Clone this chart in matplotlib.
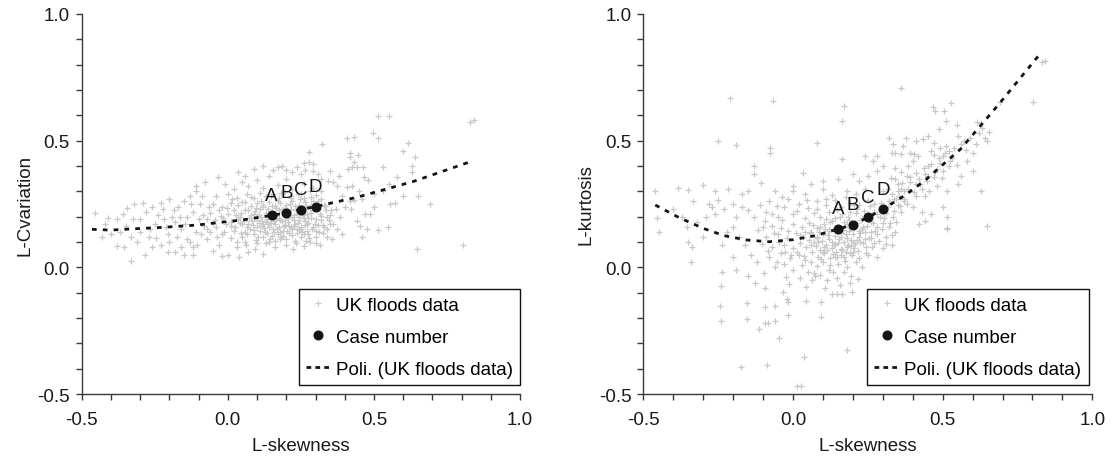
import matplotlib
matplotlib.use("Agg")
import matplotlib.pyplot as plt
from matplotlib.ticker import MultipleLocator, FuncFormatter
from matplotlib.lines import Line2D

plt.rcParams['font.family'] = ['Liberation Sans', 'DejaVu Sans']

# ---------------- data: left panel (L-skewness vs L-Cvariation) ----------------
lcv_right_wing = [
    (0.515, 0.599), (0.553, 0.599), (0.829, 0.572), (0.843, 0.581), (0.409, 0.509), (0.43, 0.516),
    (0.321, 0.487), (0.279, 0.456), (0.498, 0.53), (0.513, 0.509), (0.599, 0.46), (0.618, 0.49),
    (0.641, 0.434), (0.418, 0.45), (0.418, 0.437), (0.447, 0.443), (0.43, 0.415), (0.424, 0.395),
    (0.441, 0.395), (0.464, 0.395), (0.532, 0.395), (0.578, 0.355), (0.629, 0.401), (0.629, 0.375),
    (0.652, 0.283), (0.692, 0.25), (0.555, 0.25), (0.572, 0.253), (0.47, 0.21), (0.487, 0.21),
    (0.441, 0.184), (0.452, 0.164), (0.458, 0.121), (0.475, 0.151), (0.515, 0.147), (0.549, 0.158),
    (0.646, 0.072), (0.806, 0.089), (0.316, 0.089), (0.407, 0.316), (0.424, 0.322), (0.344, 0.342),
    (0.361, 0.336), (0.373, 0.322), (0.41, 0.39), (0.465, 0.355), (0.48, 0.345), (0.39, 0.28),
    (0.418, 0.26), (0.43, 0.265), (0.40, 0.24), (0.37, 0.23), (0.385, 0.2), (0.36, 0.17),
    (0.375, 0.15), (0.39, 0.13), (0.355, 0.11), (0.5, 0.29), (0.53, 0.3), (0.45, 0.3),
    (0.46, 0.27), (0.38, 0.36), (0.35, 0.38), (0.42, 0.23), (0.55, 0.33), (0.6, 0.28), (0.5, 0.24),
]
lcv_upper_core = [
    (0.09, 0.39), (0.12, 0.40), (0.155, 0.385), (0.17, 0.395), (0.185, 0.40), (0.2, 0.385),
    (0.22, 0.375), (0.235, 0.395), (0.25, 0.37), (0.265, 0.385), (0.29, 0.38), (0.31, 0.37),
    (0.034, 0.375), (-0.035, 0.355), (0.06, 0.36), (0.14, 0.36), (0.26, 0.41), (0.278, 0.415),
    (0.292, 0.408), (0.2, 0.35), (0.1, 0.345), (0.32, 0.35), (0.05, 0.335), (-0.01, 0.33),
]
lcv_left_wing = [
    (-0.454, 0.214), (-0.381, 0.086), (-0.357, 0.079), (-0.333, 0.026), (-0.282, 0.049), (-0.381, 0.19),
    (-0.323, 0.19), (-0.299, 0.19), (-0.229, 0.254), (-0.223, 0.23), (-0.205, 0.13), (-0.205, 0.059),
    (-0.108, 0.32), (-0.078, 0.338), (-0.25, 0.17), (-0.27, 0.12), (-0.3, 0.14), (-0.23, 0.09),
    (-0.18, 0.06), (-0.16, 0.08), (-0.14, 0.11), (-0.19, 0.2), (-0.17, 0.24), (-0.15, 0.26),
    (-0.13, 0.28), (-0.12, 0.22), (-0.16, 0.15), (-0.21, 0.16), (-0.24, 0.205), (-0.28, 0.22),
    (-0.35, 0.165), (-0.42, 0.17), (-0.4, 0.13), (-0.33, 0.12), (-0.26, 0.08), (-0.12, 0.05),
    (-0.1, 0.19), (-0.11, 0.14), (-0.13, 0.1), (-0.175, 0.12), (-0.14, 0.2), (-0.2, 0.27),
    (-0.11, 0.3), (-0.095, 0.25), (-0.12, 0.08), (-0.15, 0.05), (-0.18, 0.18), (-0.26, 0.24),
    (-0.32, 0.25), (-0.36, 0.21),
    (-0.43, 0.12), (-0.41, 0.195), (-0.37, 0.14), (-0.345, 0.235), (-0.31, 0.1), (-0.29, 0.255),
    (-0.265, 0.15), (-0.245, 0.115), (-0.22, 0.19), (-0.2, 0.1), (-0.185, 0.225), (-0.165, 0.2),
    (-0.145, 0.17), (-0.125, 0.25), (-0.105, 0.09), (-0.09, 0.28),
]
lcv_core = [
    (0.038, 0.04), (0.0, 0.05), (0.07, 0.06), (0.121, 0.053), (0.093, 0.072), (0.224, 0.072),
    (0.16, 0.08), (0.2, 0.09), (0.26, 0.085), (-0.05, 0.065), (-0.03, 0.09), (0.03, 0.08),
    (0.06, 0.1), (0.1, 0.095), (0.14, 0.1), (0.18, 0.11), (0.23, 0.105), (0.28, 0.1),
    (0.3, 0.12), (-0.07, 0.11), (0.01, 0.115), (0.05, 0.12), (0.12, 0.12), (0.25, 0.12), (-0.02, 0.045),
    (-0.06, 0.14), (-0.02, 0.13), (0.02, 0.145), (0.045, 0.135), (0.075, 0.15), (0.09, 0.13),
    (0.11, 0.145), (0.135, 0.135), (0.155, 0.15), (0.17, 0.13), (0.19, 0.145), (0.21, 0.135),
    (0.235, 0.15), (0.255, 0.14), (0.275, 0.13), (0.3, 0.145), (0.325, 0.135), (0.34, 0.15),
    (-0.08, 0.165), (-0.04, 0.16), (-0.005, 0.17), (0.025, 0.158), (0.05, 0.172), (0.065, 0.16),
    (0.085, 0.168), (0.1, 0.158), (0.12, 0.172), (0.14, 0.16), (0.16, 0.17), (0.175, 0.158),
    (0.195, 0.168), (0.215, 0.16), (0.23, 0.172), (0.25, 0.158), (0.27, 0.17), (0.29, 0.16),
    (0.31, 0.168), (0.33, 0.158), (0.35, 0.172),
    (-0.07, 0.19), (-0.045, 0.185), (-0.015, 0.195), (0.01, 0.18), (0.035, 0.192), (0.055, 0.183),
    (0.08, 0.196), (0.1, 0.185), (0.115, 0.198), (0.13, 0.18), (0.165, 0.19), (0.185, 0.182),
    (0.205, 0.195), (0.225, 0.185), (0.245, 0.198), (0.265, 0.182), (0.285, 0.195), (0.32, 0.185), (0.34, 0.2),
    (-0.06, 0.215), (-0.03, 0.225), (0.0, 0.21), (0.02, 0.228), (0.045, 0.215), (0.07, 0.225),
    (0.09, 0.21), (0.11, 0.23), (0.13, 0.215), (0.175, 0.228), (0.215, 0.232), (0.235, 0.21),
    (0.27, 0.21), (0.29, 0.225), (0.315, 0.21), (0.335, 0.228), (0.35, 0.205),
    (-0.05, 0.25), (-0.02, 0.24), (0.01, 0.255), (0.035, 0.245), (0.06, 0.258), (0.08, 0.242),
    (0.1, 0.255), (0.12, 0.245), (0.14, 0.258), (0.16, 0.242), (0.18, 0.255), (0.2, 0.245),
    (0.22, 0.26), (0.245, 0.248), (0.265, 0.258), (0.285, 0.245), (0.31, 0.26), (0.33, 0.248),
    (-0.04, 0.28), (0.0, 0.29), (0.03, 0.275), (0.065, 0.288), (0.09, 0.272), (0.11, 0.295),
    (0.13, 0.28), (0.155, 0.29), (0.175, 0.275), (0.195, 0.298), (0.215, 0.282), (0.24, 0.29),
    (0.26, 0.275), (0.28, 0.3), (0.3, 0.285), (0.32, 0.3),
    (0.02, 0.31), (0.07, 0.32), (0.12, 0.315), (0.17, 0.325), (0.22, 0.31), (0.26, 0.33), (0.29, 0.315),
    (0.06, 0.14), (0.08, 0.205), (0.105, 0.175), (0.125, 0.155), (0.145, 0.19), (0.15, 0.125),
    (0.165, 0.235), (0.18, 0.14), (0.2, 0.215), (0.22, 0.15), (0.24, 0.175), (0.255, 0.225),
    (0.27, 0.145), (0.28, 0.235), (0.3, 0.19), (0.04, 0.2), (0.095, 0.235), (0.135, 0.205),
    (0.19, 0.125), (0.26, 0.195),
]
lcv_core_dense = [
    (0.012, 0.162), (0.027, 0.207), (0.041, 0.176), (0.058, 0.228), (0.067, 0.131), (0.073, 0.193),
    (0.088, 0.147), (0.094, 0.222), (0.103, 0.119), (0.108, 0.205), (0.117, 0.163), (0.121, 0.238),
    (0.128, 0.141), (0.133, 0.191), (0.138, 0.229), (0.143, 0.112), (0.147, 0.174), (0.152, 0.244),
    (0.158, 0.138), (0.161, 0.203), (0.168, 0.152), (0.172, 0.262), (0.178, 0.187), (0.183, 0.121),
    (0.188, 0.219), (0.192, 0.165), (0.197, 0.236), (0.203, 0.143), (0.207, 0.178), (0.212, 0.251),
    (0.218, 0.127), (0.221, 0.198), (0.227, 0.164), (0.232, 0.226), (0.238, 0.137), (0.242, 0.187),
    (0.247, 0.268), (0.252, 0.153), (0.257, 0.207), (0.262, 0.133), (0.268, 0.241), (0.273, 0.176),
    (0.278, 0.116), (0.283, 0.213), (0.288, 0.151), (0.293, 0.262), (0.298, 0.171), (0.304, 0.229),
    (0.311, 0.138), (0.318, 0.201), (0.326, 0.169), (0.333, 0.243), (0.338, 0.119), (0.346, 0.188),
    (0.352, 0.226),
    (-0.012, 0.141), (-0.025, 0.204), (-0.038, 0.118), (-0.051, 0.176), (-0.064, 0.238), (-0.072, 0.151),
    (-0.085, 0.205), (-0.091, 0.131), (-0.004, 0.236), (0.015, 0.268), (0.032, 0.101), (0.047, 0.257),
    (0.062, 0.087), (0.078, 0.276), (0.096, 0.108), (0.112, 0.262), (0.129, 0.097), (0.146, 0.281),
    (0.163, 0.104), (0.181, 0.292), (0.199, 0.112), (0.216, 0.273), (0.234, 0.095), (0.251, 0.288),
    (0.269, 0.105), (0.286, 0.279), (0.302, 0.098), (0.319, 0.271),
    (0.137, 0.171), (0.154, 0.211), (0.176, 0.196), (0.194, 0.186), (0.209, 0.164), (0.226, 0.206),
    (0.244, 0.146), (0.263, 0.167), (0.118, 0.183), (0.101, 0.201), (0.084, 0.181), (0.069, 0.172),
    (0.158, 0.181), (0.185, 0.232), (0.231, 0.243), (0.274, 0.196),
]
lcv_trend_x = [-0.465, -0.40, -0.34, -0.22, -0.105, -0.03, 0.05, 0.15, 0.2, 0.25, 0.3, 0.44, 0.635, 0.83]
lcv_trend_y = [0.150, 0.147, 0.151, 0.158, 0.167, 0.177, 0.187, 0.205, 0.215, 0.228, 0.24, 0.276, 0.339, 0.417]

# ---------------- data: right panel (L-skewness vs L-kurtosis) ----------------
lk_lower_tail = [
    (-0.24, -0.075), (-0.24, -0.21), (-0.154, -0.204), (-0.172, -0.395), (-0.112, -0.243), (-0.088, -0.384),
    (-0.092, -0.22), (-0.085, -0.22), (-0.06, -0.21), (-0.048, -0.28), (-0.015, -0.19), (0.036, -0.355),
    (0.015, -0.467), (0.027, -0.467), (0.095, -0.197), (0.18, -0.325), (0.045, -0.134), (0.13, -0.105),
    (0.148, -0.105), (0.165, -0.105), (0.198, -0.096), (0.216, -0.046), (-0.094, -0.083), (-0.032, -0.099),
    (-0.02, -0.125), (-0.15, -0.033), (-0.243, -0.152), (-0.155, -0.142), (-0.095, -0.158), (-0.059, -0.152),
    (-0.017, -0.136), (0.094, -0.138), (-0.127, -0.063), (-0.097, -0.024), (-0.024, -0.04), (0.042, -0.077),
    (0.071, -0.024), (0.073, -0.036), (0.113, -0.049), (0.146, -0.043), (0.194, -0.036), (0.19, -0.06),
    (0.17, -0.02), (0.23, 0.0), (-0.19, -0.01),
]
lk_left_wing = [
    (-0.462, 0.303), (-0.448, 0.138), (-0.383, 0.312), (-0.35, 0.305), (-0.3, 0.325), (-0.333, 0.262),
    (-0.26, 0.302), (-0.216, 0.309), (-0.453, 0.193), (-0.353, 0.16), (-0.338, 0.081), (-0.35, 0.101),
    (-0.34, 0.02), (-0.238, 0.088), (-0.238, -0.017), (-0.28, 0.25), (-0.27, 0.24), (-0.29, 0.2),
    (-0.26, 0.21), (-0.25, 0.265), (-0.23, 0.23), (-0.2, 0.25), (-0.17, 0.24), (-0.15, 0.225),
    (-0.13, 0.2), (-0.11, 0.245), (-0.09, 0.22), (-0.08, 0.26), (-0.129, 0.401), (-0.129, 0.368),
    (-0.108, 0.332), (-0.249, 0.5), (-0.19, 0.483), (-0.076, 0.47), (-0.076, 0.45), (-0.21, 0.667),
    (-0.068, 0.658), (-0.2, 0.16), (-0.18, 0.12), (-0.16, 0.09), (-0.22, 0.14), (-0.14, 0.05),
    (-0.12, 0.02), (-0.2, 0.04), (-0.3, 0.12), (-0.4, 0.23), (-0.37, 0.2), (-0.32, 0.18),
    (-0.19, 0.2), (-0.1, 0.16), (-0.17, 0.29), (-0.15, 0.3), (-0.06, 0.3),
]
lk_core = [
    (-0.06, 0.0), (-0.03, 0.015), (0.0, -0.01), (0.03, 0.01), (0.05, -0.02), (0.08, 0.005),
    (0.1, 0.02), (0.12, -0.01), (0.15, 0.012), (0.18, 0.0), (0.21, 0.02),
    (-0.08, 0.04), (-0.04, 0.055), (-0.01, 0.035), (0.02, 0.05), (0.04, 0.03), (0.065, 0.06),
    (0.085, 0.04), (0.105, 0.055), (0.125, 0.035), (0.145, 0.06), (0.17, 0.04), (0.19, 0.055),
    (0.22, 0.035), (0.25, 0.05), (0.28, 0.04),
    (-0.07, 0.08), (-0.03, 0.09), (0.0, 0.075), (0.025, 0.095), (0.045, 0.08), (0.07, 0.1),
    (0.09, 0.07), (0.11, 0.09), (0.13, 0.075), (0.15, 0.095), (0.165, 0.07), (0.185, 0.09),
    (0.205, 0.075), (0.225, 0.1), (0.245, 0.08), (0.27, 0.095), (0.3, 0.075), (0.33, 0.09),
    (-0.09, 0.12), (-0.05, 0.13), (-0.02, 0.115), (0.01, 0.135), (0.035, 0.12), (0.06, 0.14),
    (0.08, 0.115), (0.1, 0.13), (0.12, 0.11), (0.14, 0.125), (0.16, 0.135), (0.18, 0.115),
    (0.2, 0.13), (0.22, 0.12), (0.24, 0.14), (0.26, 0.115), (0.28, 0.13), (0.31, 0.12), (0.34, 0.14),
    (-0.07, 0.165), (-0.04, 0.155), (0.0, 0.17), (0.03, 0.16), (0.055, 0.175), (0.08, 0.155),
    (0.105, 0.17), (0.125, 0.18), (0.15, 0.16), (0.17, 0.18), (0.19, 0.155), (0.215, 0.175),
    (0.235, 0.16), (0.26, 0.18), (0.28, 0.16), (0.3, 0.175), (0.32, 0.16), (0.345, 0.18),
    (-0.05, 0.2), (0.0, 0.21), (0.04, 0.195), (0.07, 0.215), (0.09, 0.2), (0.12, 0.22),
    (0.14, 0.195), (0.165, 0.21), (0.185, 0.2), (0.21, 0.215), (0.23, 0.195), (0.27, 0.22),
    (0.29, 0.2), (0.31, 0.215), (0.335, 0.2), (0.36, 0.22),
    (-0.03, 0.24), (0.02, 0.25), (0.05, 0.235), (0.08, 0.26), (0.11, 0.245), (0.14, 0.265),
    (0.16, 0.24), (0.19, 0.255), (0.22, 0.245), (0.25, 0.265), (0.27, 0.25), (0.32, 0.26),
    (0.35, 0.245), (0.37, 0.27),
    (0.0, 0.3), (0.04, 0.29), (0.1, 0.31), (0.13, 0.285), (0.18, 0.3), (0.21, 0.29),
    (0.24, 0.31), (0.3, 0.3), (0.33, 0.29), (0.36, 0.31),
    (0.165, 0.428), (0.268, 0.418), (0.034, 0.371), (0.001, 0.322), (-0.038, 0.276), (0.08, 0.491),
    (0.171, 0.638), (0.163, 0.579), (0.2, 0.37), (0.25, 0.36), (0.15, 0.35), (0.1, 0.34),
    (0.28, 0.38), (0.3, 0.4), (0.22, 0.34), (0.06, 0.33), (0.24, 0.44), (0.33, 0.45),
    (0.1, 0.06), (0.13, 0.1), (0.15, 0.14), (0.17, 0.1), (0.2, 0.1), (0.12, 0.15),
    (0.18, 0.17), (0.22, 0.145), (0.08, 0.12), (0.06, 0.09), (0.16, 0.05), (0.24, 0.11),
    (0.26, 0.14), (0.14, 0.04), (0.11, 0.19), (0.19, 0.22), (0.04, 0.14), (0.2, 0.06),
    (0.09, 0.16), (0.25, 0.2),
]
lk_core_dense = [
    (0.012, 0.062), (0.024, 0.128), (0.038, 0.046), (0.052, 0.108), (0.061, 0.021), (0.068, 0.167),
    (0.077, 0.083), (0.086, 0.138), (0.093, 0.031), (0.098, 0.104), (0.107, 0.152), (0.113, 0.067),
    (0.118, 0.126), (0.124, 0.008), (0.131, 0.181), (0.136, 0.087), (0.142, 0.143), (0.147, 0.042),
    (0.153, 0.112), (0.158, 0.197), (0.162, 0.071), (0.168, 0.148), (0.173, 0.024), (0.177, 0.131),
    (0.182, 0.082), (0.187, 0.187), (0.193, 0.108), (0.197, 0.047), (0.203, 0.161), (0.208, 0.091),
    (0.213, 0.232), (0.218, 0.064), (0.223, 0.137), (0.228, 0.185), (0.233, 0.098), (0.238, 0.221),
    (0.243, 0.057), (0.248, 0.164), (0.253, 0.117), (0.258, 0.241), (0.264, 0.081), (0.269, 0.176),
    (0.274, 0.142), (0.281, 0.211), (0.287, 0.103), (0.293, 0.254), (0.298, 0.151), (0.305, 0.195),
    (0.312, 0.091), (0.318, 0.238), (0.324, 0.176), (0.331, 0.127), (0.338, 0.221), (0.345, 0.268),
    (-0.008, 0.047), (-0.016, 0.143), (-0.027, 0.062), (-0.035, 0.186), (-0.046, 0.101), (-0.054, 0.022),
    (-0.062, 0.137), (-0.071, 0.211), (-0.082, 0.063), (-0.095, 0.181), (-0.104, 0.094), (-0.116, 0.146),
    (-0.052, 0.242), (-0.018, 0.268), (0.015, 0.221), (0.047, 0.264), (0.079, 0.232), (0.112, 0.271),
    (0.148, 0.226), (0.178, 0.276), (0.203, 0.248), (0.091, -0.032), (0.134, -0.018), (0.063, -0.051),
    (0.024, -0.043), (-0.012, -0.066), (0.157, -0.071), (0.108, -0.083),
    (0.142, 0.092), (0.161, 0.118), (0.176, 0.062), (0.121, 0.144), (0.102, 0.081), (0.188, 0.142),
    (0.214, 0.108), (0.231, 0.152), (0.194, 0.083), (0.084, 0.101), (0.057, 0.136), (0.133, 0.052),
]
lk_right_wing = [
    (0.36, 0.707), (0.467, 0.632), (0.475, 0.619), (0.503, 0.619), (0.527, 0.647), (0.511, 0.578),
    (0.489, 0.548), (0.547, 0.561), (0.616, 0.572), (0.627, 0.569), (0.642, 0.509), (0.647, 0.5),
    (0.803, 0.651), (0.831, 0.809), (0.842, 0.815), (0.322, 0.509), (0.378, 0.509), (0.436, 0.506),
    (0.367, 0.48), (0.36, 0.447), (0.341, 0.453), (0.335, 0.486), (0.282, 0.44), (0.404, 0.447),
    (0.419, 0.44), (0.46, 0.46), (0.47, 0.445), (0.49, 0.47), (0.51, 0.48), (0.52, 0.46),
    (0.5, 0.44), (0.53, 0.43), (0.52, 0.4), (0.5, 0.38), (0.49, 0.41), (0.48, 0.39),
    (0.36, 0.375), (0.38, 0.36), (0.39, 0.335), (0.41, 0.33), (0.42, 0.35), (0.44, 0.37),
    (0.45, 0.36), (0.47, 0.355), (0.43, 0.31), (0.41, 0.283), (0.44, 0.28), (0.455, 0.3),
    (0.48, 0.32), (0.5, 0.237), (0.514, 0.154), (0.441, 0.184), (0.46, 0.21), (0.43, 0.22),
    (0.42, 0.17), (0.4, 0.24), (0.38, 0.25), (0.37, 0.3), (0.627, 0.302), (0.648, 0.164),
    (0.515, 0.3), (0.515, 0.197), (0.515, 0.151), (0.55, 0.33), (0.58, 0.42), (0.6, 0.45),
    (0.57, 0.5), (0.62, 0.53), (0.55, 0.52), (0.4, 0.42), (0.385, 0.4), (0.35, 0.33),
    (0.355, 0.28), (0.34, 0.35), (0.39, 0.45), (0.41, 0.5), (0.45, 0.52), (0.45, 0.4),
    (0.47, 0.49), (0.693, 0.651), (0.60, 0.38), (0.56, 0.36),
    (0.352, 0.302), (0.364, 0.331), (0.371, 0.262), (0.383, 0.309), (0.392, 0.356), (0.403, 0.298),
    (0.411, 0.371), (0.426, 0.328), (0.437, 0.392), (0.448, 0.342), (0.462, 0.408), (0.473, 0.376),
    (0.488, 0.432), (0.497, 0.352), (0.508, 0.452), (0.523, 0.418), (0.537, 0.471), (0.548, 0.402),
    (0.562, 0.488), (0.578, 0.462), (0.592, 0.512), (0.611, 0.486), (0.633, 0.551), (0.655, 0.533),
    (0.318, 0.311), (0.336, 0.271), (0.357, 0.242), (0.342, 0.392), (0.327, 0.352),
]
lk_trend_x = [-0.46, -0.38, -0.30, -0.23, -0.155, -0.08, 0.0, 0.075, 0.15, 0.2, 0.25, 0.30, 0.375, 0.44, 0.56, 0.69, 0.825]
lk_trend_y = [0.246, 0.196, 0.154, 0.125, 0.108, 0.101, 0.109, 0.125, 0.151, 0.168, 0.197, 0.229, 0.285, 0.342, 0.467, 0.647, 0.842]

# ---------------- case numbers ----------------
case_labels = ['A', 'B', 'C', 'D']
case_skew = [0.15, 0.20, 0.25, 0.30]
case_lcv = [0.205, 0.215, 0.228, 0.24]
case_lkurt = [0.151, 0.168, 0.197, 0.229]

legend_labels = ['UK floods data', 'Case number', 'Poli. (UK floods data)']

GRAY = '#c8c8c8'
DARK = '#151515'
SPINE = '#3a3a3a'


def xy(groups):
    xs, ys = [], []
    for g in groups:
        for a, b in g:
            xs.append(a)
            ys.append(b)
    return xs, ys


fig = plt.figure(figsize=(11.12, 4.6), dpi=100)
ax1 = fig.add_axes([0.0735, 0.1413, 0.3942, 0.8261])
ax2 = fig.add_axes([0.5785, 0.1413, 0.4038, 0.8261])

panels = [
    (ax1, [lcv_core, lcv_core_dense, lcv_upper_core, lcv_left_wing, lcv_right_wing], lcv_trend_x, lcv_trend_y,
     case_lcv, 'L-Cvariation', (1.0, 0.024), -0.111),
    (ax2, [lk_core, lk_core_dense, lk_left_wing, lk_lower_tail, lk_right_wing], lk_trend_x, lk_trend_y,
     case_lkurt, 'L-kurtosis', (0.9915, 0.024), -0.108),
]

for ax, groups, tx, ty, cy, ylab, leg_anchor, ylab_x in panels:
    sx, sy = xy(groups)
    ax.plot(sx, sy, linestyle='none', marker='+', markersize=5, markeredgewidth=0.9,
            color=GRAY, zorder=1)
    ax.plot(tx, ty, color=DARK, linewidth=2.0, dashes=(1.7, 2.2), zorder=2)
    ax.plot(case_skew, cy, linestyle='none', marker='o', markersize=6.2, color=DARK, zorder=3)
    for lbl, cx, cyy in zip(case_labels, case_skew, cy):
        ax.annotate(lbl, (cx, cyy), xytext=(0, 14.5), textcoords='offset points',
                    ha='center', va='center', fontsize=13.5, color=DARK, zorder=4)

    ax.set_xlim(-0.5, 1.0)
    ax.set_ylim(-0.5, 1.0)
    for s in ('top', 'right'):
        ax.spines[s].set_visible(False)
    for s in ('left', 'bottom'):
        ax.spines[s].set_color(SPINE)
        ax.spines[s].set_linewidth(1.0)
    fmt = FuncFormatter(lambda v, p: f'{v:.1f}')
    ax.xaxis.set_major_locator(MultipleLocator(0.5))
    ax.yaxis.set_major_locator(MultipleLocator(0.5))
    ax.xaxis.set_minor_locator(MultipleLocator(0.1))
    ax.yaxis.set_minor_locator(MultipleLocator(0.1))
    ax.xaxis.set_major_formatter(fmt)
    ax.yaxis.set_major_formatter(fmt)
    ax.tick_params(which='both', direction='out', length=4, width=1.0, color=SPINE,
                   labelsize=13.5, labelcolor='#1a1a1a')
    ax.tick_params(axis='x', which='major', pad=8.5)
    ax.tick_params(axis='y', which='major', pad=4.5)

    ax.set_xlabel('L-skewness', fontsize=13.5, color='#1a1a1a')
    ax.xaxis.set_label_coords(0.5, -0.113)
    ax.set_ylabel(ylab, fontsize=13.5, color='#1a1a1a')
    ax.yaxis.set_label_coords(ylab_x, 0.5)

    handles = [
        Line2D([], [], linestyle='none', marker='+', markersize=4, markeredgewidth=0.8, color=GRAY),
        Line2D([], [], linestyle='none', marker='o', markersize=6.2, color=DARK),
        Line2D([], [], color=DARK, linewidth=2.0, dashes=(1.7, 1.5)),
    ]
    leg = ax.legend(handles, legend_labels, loc='lower right', bbox_to_anchor=leg_anchor,
                    borderaxespad=0, fontsize=13.5, frameon=True, fancybox=False,
                    edgecolor='#111111', framealpha=1, handlelength=1.3, handletextpad=0.3,
                    labelspacing=0.8, borderpad=0.38)
    leg.get_frame().set_linewidth(1.0)

fig.savefig('out.png', dpi=100)
